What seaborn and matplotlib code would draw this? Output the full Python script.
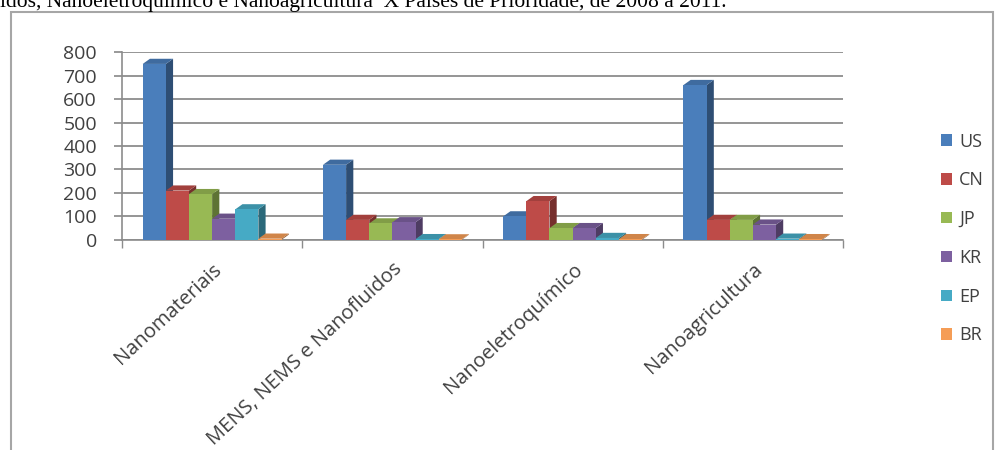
import matplotlib
matplotlib.use("Agg")
import matplotlib.pyplot as plt
import seaborn as sns
import pandas as pd
from matplotlib.patches import Rectangle, Polygon
from matplotlib.colors import to_rgb

categories = ["Nanomateriais", "MENS, NEMS e Nanofluidos", "Nanoeletroquímico", "Nanoagricultura"]
countries = ["US", "CN", "JP", "KR", "EP", "BR"]
us = [750, 320, 100, 660]
cn = [210, 85, 165, 85]
jp = [195, 70, 50, 85]
kr = [90, 75, 50, 65]
ep = [130, 3, 8, 5]
br = [5, 2, 3, 3]
yticks = [0, 100, 200, 300, 400, 500, 600, 700, 800]
colors = ["#4A7EBB", "#BE4B48", "#98B954", "#7D60A0", "#46AAC5", "#F59D56"]
title = "idos, Nanoeletroquímico e Nanoagricultura  X Países de Prioridade, de 2008 a 2011."

series = [us, cn, jp, kr, ep, br]
rows = []
for c, vals in zip(countries, series):
    for cat, v in zip(categories, vals):
        rows.append({"cat": cat, "country": c, "value": v})
df = pd.DataFrame(rows)

sns.set_theme(style="white")
plt.rcParams["font.family"] = ["Open Sans", "DejaVu Sans"]

fig = plt.figure(figsize=(10, 4.5), dpi=100)
ax = fig.add_axes([0.122, 0.467, 0.721, 0.417])

sns.barplot(data=df, x="cat", y="value", hue="country", order=categories,
            hue_order=countries, palette=colors, width=0.77, gap=0,
            saturation=1, linewidth=0, ax=ax, zorder=3)

ax.set_ylim(0, 800)
ax.set_yticks(yticks)
ax.set_xlim(-0.5, len(categories) - 0.5)

# pseudo-3D depth (derived from each bar's own geometry)
dx, dy = 0.04, 22
for p in list(ax.patches):
    x0, w, h = p.get_x(), p.get_width(), p.get_height()
    r, g, b = to_rgb(p.get_facecolor())
    dark = (r * 0.62, g * 0.62, b * 0.62)
    light = (r * 0.85, g * 0.85, b * 0.85)
    side = Polygon([(x0 + w, 0), (x0 + w + dx, dy), (x0 + w + dx, h + dy), (x0 + w, h)],
                   closed=True, facecolor=dark, edgecolor="none", zorder=2.5)
    top = Polygon([(x0, h), (x0 + dx, h + dy), (x0 + w + dx, h + dy), (x0 + w, h)],
                  closed=True, facecolor=light, edgecolor="none", zorder=2.5)
    ax.add_patch(side)
    ax.add_patch(top)

ax.grid(axis="y", color="#8C8C8C", linewidth=1.3, zorder=0)
ax.set_axisbelow(True)
ax.set_xlabel("")
ax.set_ylabel("")
for s in ["top", "right"]:
    ax.spines[s].set_visible(False)
for s in ["left", "bottom"]:
    ax.spines[s].set_color("#8C8C8C")
    ax.spines[s].set_linewidth(1.2)

ax.tick_params(axis="y", labelsize=14, labelcolor="#404040", length=6,
               color="#8C8C8C", direction="out", left=True, pad=12)
ax.set_xticks([i - 0.5 for i in range(len(categories) + 1)], minor=True)
ax.tick_params(axis="x", which="minor", length=6, color="#8C8C8C", direction="out", bottom=True)
ax.tick_params(axis="x", which="major", length=0, pad=14)
ax.set_xticks(range(len(categories)))
ax.set_xticklabels(categories, rotation=43, ha="right", rotation_mode="anchor",
                   fontsize=14.5, color="#404040")

handles, labels = ax.get_legend_handles_labels()
if ax.legend_:
    ax.legend_.remove()
fig.legend(handles, labels, loc="center left", bbox_to_anchor=(0.925, 0.47),
           frameon=False, prop={"family": "Open Sans", "size": 13},
           handlelength=0.6, handleheight=0.6,
           handletextpad=0.4, labelspacing=1.15, labelcolor="#404040")

fig.patches.append(Rectangle((0.011, -0.02), 0.982, 0.993, transform=fig.transFigure,
                             fill=False, edgecolor="#A6A6A6", linewidth=1.5))
fig.text(0.0, 0.984, title, family="Liberation Serif", fontsize=15.5,
         va="baseline", ha="left", color="black")

fig.savefig("out.png", dpi=100, facecolor="white")
